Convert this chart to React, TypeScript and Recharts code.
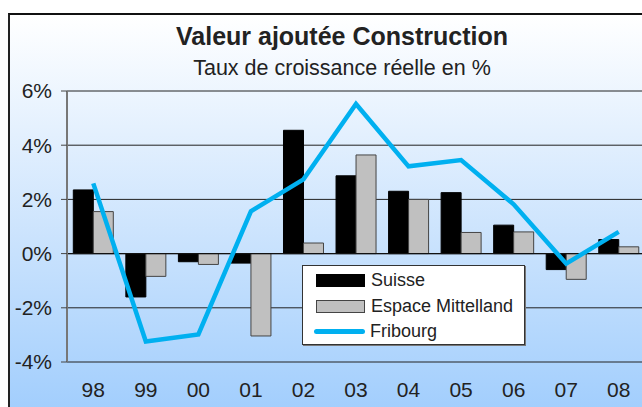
import React from "react";
import {
  Bar,
  CartesianGrid,
  ComposedChart,
  Line,
  ReferenceLine,
  XAxis,
  YAxis,
} from "recharts";

const years = ["98", "99", "00", "01", "02", "03", "04", "05", "06", "07", "08"];
const suisse = [2.35, -1.6, -0.3, -0.35, 4.55, 2.87, 2.3, 2.25, 1.05, -0.59, 0.52];
const mittelland = [1.55, -0.84, -0.4, -3.04, 0.39, 3.64, 2.0, 0.78, 0.8, -0.95, 0.25];
const fribourg = [2.59, -3.24, -2.98, 1.56, 2.74, 5.52, 3.22, 3.45, 1.82, -0.37, 0.8];
const yTicks = [-4, -2, 0, 2, 4, 6];

const data = years.map((year, i) => ({
  year,
  suisse: suisse[i],
  mittelland: mittelland[i],
  fribourg: fribourg[i],
}));

const FONT = '"Liberation Sans", Arial, sans-serif';
const LINE_COLOR = "#00b0f0";

// legend is a plain box on top of the chart, so it doesn't eat plot height
function LegendBox() {
  const items = [
    { label: "Suisse", kind: "bar", fill: "#000000", stroke: "#000000" },
    { label: "Espace Mittelland", kind: "bar", fill: "#c0c0c0", stroke: "#444444" },
    { label: "Fribourg", kind: "line", fill: LINE_COLOR, stroke: LINE_COLOR },
  ];
  return (
    <div
      style={{
        position: "absolute",
        left: 302,
        top: 265,
        width: 223,
        height: 80,
        background: "#ffffff",
        border: "1px solid #333",
        boxShadow: "1px 1px 0 #777",
        fontFamily: FONT,
        fontSize: 18,
        color: "#222",
        paddingTop: 2,
        boxSizing: "border-box",
      }}
    >
      {items.map((it) => (
        <div key={it.label} style={{ display: "flex", alignItems: "center", height: 25.5 }}>
          {it.kind === "bar" ? (
            <div
              style={{
                width: 47,
                height: 11,
                marginLeft: 13,
                background: it.fill,
                border: `1px solid ${it.stroke}`,
              }}
            />
          ) : (
            <div
              style={{
                width: 51,
                height: 5,
                marginLeft: 11,
                borderRadius: 3,
                background: it.fill,
              }}
            />
          )}
          <span style={{ marginLeft: it.kind === "bar" ? 6 : 5 }}>{it.label}</span>
        </div>
      ))}
    </div>
  );
}

export default function App() {
  return (
    <div
      style={{
        position: "fixed",
        left: 0,
        top: 0,
        width: 642,
        height: 407,
        overflow: "hidden",
        background: "#ffffff",
      }}
    >
      <div
        style={{
          position: "absolute",
          left: 8,
          top: 13,
          width: 670,
          height: 420,
          borderTop: "2px solid #111",
          borderLeft: "2px solid #222",
          background: "linear-gradient(to bottom, #ffffff 0%, #c9e2fd 55%, #9ccbfd 100%)",
        }}
      />
      <div
        style={{
          position: "absolute",
          left: 142,
          width: 400,
          top: 21,
          textAlign: "center",
          fontFamily: FONT,
          color: "#222",
        }}
      >
        <div style={{ fontSize: 25, fontWeight: "bold", lineHeight: "31px" }}>
          Valeur ajoutée Construction
        </div>
        <div style={{ fontSize: 21.5, lineHeight: "32px" }}>Taux de croissance réelle en %</div>
      </div>
      <div style={{ position: "absolute", left: 0, top: 0 }}>
        <ComposedChart
          width={680}
          height={407}
          data={data}
          margin={{ top: 91, right: 35, left: 7, bottom: 0 }}
          barCategoryGap="12%"
          barGap={0}
        >
          <CartesianGrid vertical={false} stroke="#222" strokeWidth={1} />
          <XAxis
            dataKey="year"
            axisLine={false}
            tickLine={false}
            height={45}
            tickMargin={14}
            tick={{ fontSize: 21, fill: "#222", fontFamily: FONT }}
          />
          <YAxis
            domain={[-4, 6]}
            ticks={yTicks}
            width={60}
            interval={0}
            allowDataOverflow
            tickFormatter={(v: number) => `${v}%`}
            axisLine={{ stroke: "#777", strokeWidth: 2 }}
            tickLine={{ stroke: "#444" }}
            tickSize={6}
            tickMargin={9}
            tick={{ fontSize: 21, fill: "#222", fontFamily: FONT }}
          />
          <ReferenceLine y={0} stroke="#111" strokeWidth={1.2} />
          <Bar dataKey="suisse" name="Suisse" fill="#000000" stroke="#000000" isAnimationActive={false} />
          <Bar
            dataKey="mittelland"
            name="Espace Mittelland"
            fill="#c0c0c0"
            stroke="#444444"
            isAnimationActive={false}
          />
          <Line
            type="linear"
            dataKey="fribourg"
            name="Fribourg"
            stroke={LINE_COLOR}
            strokeWidth={4.5}
            dot={false}
            activeDot={false}
            isAnimationActive={false}
          />
        </ComposedChart>
      </div>
      <LegendBox />
    </div>
  );
}
